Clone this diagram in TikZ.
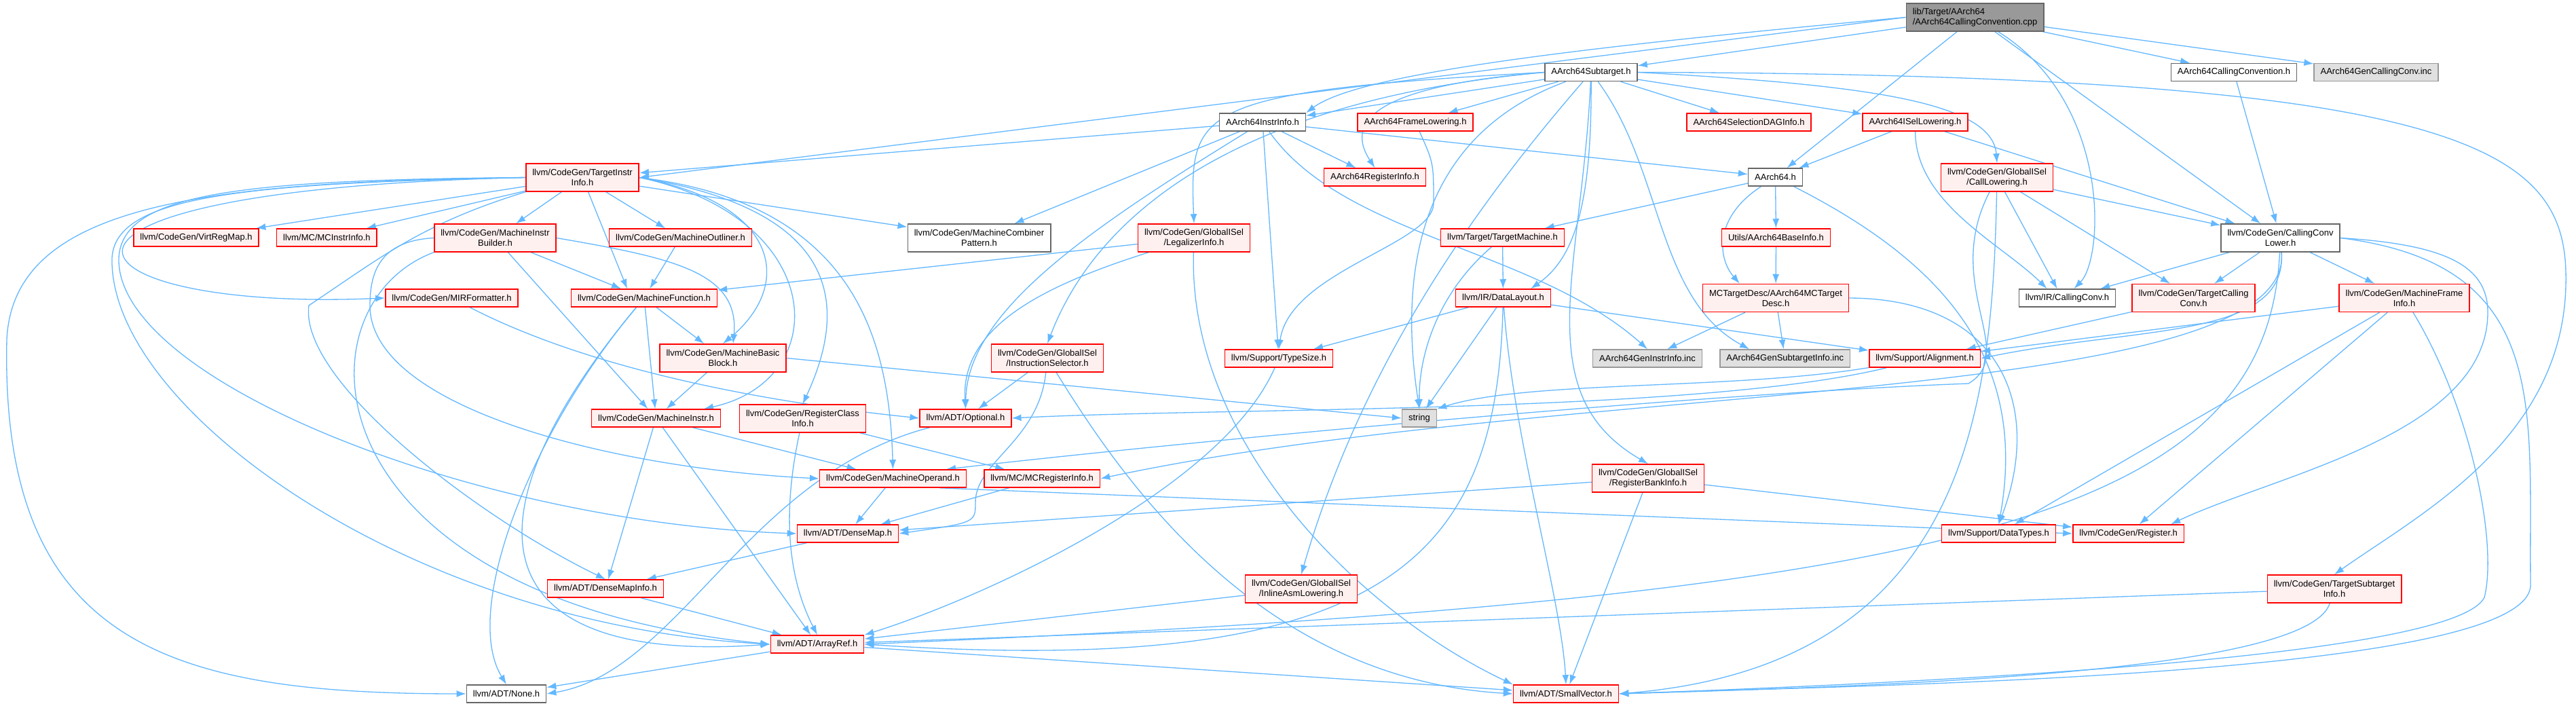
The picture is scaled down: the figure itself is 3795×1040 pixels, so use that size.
\documentclass[tikz,border=0pt]{standalone}
\usepackage{fontspec}
\setmainfont{Liberation Sans}
\usepackage{xcolor}
\usetikzlibrary{arrows.meta, positioning, backgrounds}

\definecolor{edgeblue}{HTML}{63B8FF}
\definecolor{truncred}{HTML}{FF0000}
\definecolor{truncfill}{HTML}{FFF0F0}
\definecolor{plainline}{HTML}{666666}
\definecolor{incline}{HTML}{999999}
\definecolor{incfill}{HTML}{E0E0E0}
\definecolor{rootfill}{HTML}{999999}

\begin{document}
\begin{tikzpicture}[
    x=1pt, y=-1pt,
    hbox/.style={rectangle, line width=1.5pt, align=center, inner xsep=9.5pt, inner ysep=2pt, minimum height=26pt, font=\fontsize{13}{15}\selectfont},
    rnode/.style={hbox, draw=truncred, fill=truncfill},
    wnode/.style={hbox, draw=plainline, fill=white},
    gnode/.style={hbox, draw=incline, fill=incfill},
    rootnode/.style={hbox, draw=plainline, fill=rootfill, align=left},
    tall/.style={minimum height=41pt},
    dep/.style={-{Latex[length=14pt,width=10pt]}, line width=1.3pt, color=edgeblue}
]
\useasboundingbox (0,0) rectangle (3795,1040);

% Nodes
\node[rootnode, tall] (root) at (2909.5,25.5) {lib/Target/AArch64\\/AArch64CallingConvention.cpp};
\node[wnode] (subt) at (2344,106.5) {AArch64Subtarget.h};
\node[wnode] (ccconv) at (3291,106.5) {AArch64CallingConvention.h};
\node[gnode, right=24pt of ccconv] (gencc) {AArch64GenCallingConv.inc};

\node[wnode] (instr) at (1860,180) {AArch64InstrInfo.h};
\node[rnode] (frame) at (2085,180) {AArch64FrameLowering.h};
\node[rnode] (seldag) at (2576.5,180) {AArch64SelectionDAGInfo.h};
\node[rnode] (isel) at (2821.5,180) {AArch64ISelLowering.h};

\node[rnode, tall] (tii) at (858,261.5) {llvm/CodeGen/TargetInstr\\Info.h};
\node[rnode] (reginfo) at (2025.5,261) {AArch64RegisterInfo.h};
\node[wnode] (aarch) at (2615.5,261) {AArch64.h};
\node[rnode, tall] (calllow) at (2942,261.5) {llvm/CodeGen/GlobalISel\\/CallLowering.h};

\node[rnode] (vrm) at (289,350) {llvm/CodeGen/VirtRegMap.h};
\node[rnode, right=25pt of vrm] (mcii) {llvm/MC/MCInstrInfo.h};
\node[rnode, tall] (mib) at (729.5,350.5) {llvm/CodeGen/MachineInstr\\Builder.h};
\node[rnode] (outliner) at (1002.5,350) {llvm/CodeGen/MachineOutliner.h};
\node[wnode, tall] (combiner) at (1442.5,350.5) {llvm/CodeGen/MachineCombiner\\Pattern.h};
\node[rnode, tall] (legal) at (1759,350.5) {llvm/CodeGen/GlobalISel\\/LegalizerInfo.h};
\node[rnode] (tm) at (2213.5,350) {llvm/Target/TargetMachine.h};
\node[rnode] (baseinfo) at (2616.5,350) {Utils/AArch64BaseInfo.h};
\node[wnode, tall] (cclower) at (3359.5,350.5) {llvm/CodeGen/CallingConv\\Lower.h};

\node[rnode] (mirf) at (665.5,439) {llvm/CodeGen/MIRFormatter.h};
\node[rnode] (mf) at (949,439) {llvm/CodeGen/MachineFunction.h};
\node[rnode] (dl) at (2214.5,439) {llvm/IR/DataLayout.h};
\node[rnode, tall] (mctd) at (2616,439) {MCTargetDesc/AArch64MCTarget\\Desc.h};
\node[wnode] (ircc) at (3045.5,439) {llvm/IR/CallingConv.h};
\node[rnode, tall, right=23pt of ircc] (tcc) {llvm/CodeGen/TargetCalling\\Conv.h};
\node[rnode, tall] (mfi) at (3542,439) {llvm/CodeGen/MachineFrame\\Info.h};

\node[rnode, tall] (mbb) at (1065,527.5) {llvm/CodeGen/MachineBasic\\Block.h};
\node[rnode, tall] (instsel) at (1543,527.5) {llvm/CodeGen/GlobalISel\\/InstructionSelector.h};
\node[rnode] (typesize) at (1884,528) {llvm/Support/TypeSize.h};
\node[gnode] (geninstr) at (2427,528) {AArch64GenInstrInfo.inc};
\node[gnode, right=25pt of geninstr] (gensub) {AArch64GenSubtargetInfo.inc};
\node[rnode] (align) at (2835.5,528) {llvm/Support/Alignment.h};

\node[rnode] (mi) at (966.5,616) {llvm/CodeGen/MachineInstr.h};
\node[rnode, tall] (rci) at (1182.5,616.5) {llvm/CodeGen/RegisterClass\\Info.h};
\node[rnode] (optional) at (1422.5,616) {llvm/ADT/Optional.h};
\node[gnode] (str) at (2091,616) {string};

\node[rnode] (mo) at (1315.5,705) {llvm/CodeGen/MachineOperand.h};
\node[rnode, right=25pt of mo] (mcri) {llvm/MC/MCRegisterInfo.h};
\node[rnode, tall] (rbi) at (2428,704.5) {llvm/CodeGen/GlobalISel\\/RegisterBankInfo.h};

\node[rnode] (dm) at (1249,786) {llvm/ADT/DenseMap.h};
\node[rnode] (dt) at (2944.5,786) {llvm/Support/DataTypes.h};
\node[rnode, right=24pt of dt] (reg) {llvm/CodeGen/Register.h};

\node[rnode] (dmi) at (892,867) {llvm/ADT/DenseMapInfo.h};
\node[rnode, tall] (inlasm) at (1917,867.5) {llvm/CodeGen/GlobalISel\\/InlineAsmLowering.h};
\node[rnode, tall] (tsi) at (3439,867.5) {llvm/CodeGen/TargetSubtarget\\Info.h};

\node[rnode] (ar) at (1204,949) {llvm/ADT/ArrayRef.h};
\node[wnode] (none) at (746,1022) {llvm/ADT/None.h};
\node[rnode] (sv) at (2307,1022) {llvm/ADT/SmallVector.h};

\begin{scope}[on background layer]
\fill[white] (0,0) rectangle (3795,1040);

% Includes of the .cpp file
\draw[dep] (root) -- (subt);
\draw[dep] (root.west) .. controls (2300,72) and (2000,110) .. (instr.north east);
\draw[dep] (root.west) -- (tii.east);
\draw[dep] (root) -- (aarch);
\draw[dep] (root) -- (ccconv);
\draw[dep] (root) -- (gencc);
\draw[dep] (root) -- (cclower);
\draw[dep] (root) .. controls (3110,150) and (3100,380) .. ([xshift=10pt]ircc.north);

% AArch64Subtarget.h
\draw[dep] (subt) -- (instr);
\draw[dep] (subt) -- (frame);
\draw[dep] (subt.west) .. controls (2050,125) and (1975,170) .. (reginfo.north);
\draw[dep] (subt) -- (seldag);
\draw[dep] (subt) -- (isel);
\draw[dep] (subt.east) .. controls (2750,125) and (2935,150) .. (calllow.north);
\draw[dep] (subt.east) .. controls (3650,110) and (3785,220) .. (3780,420) .. controls (3775,650) and (3560,760) .. (tsi.north);
\draw[dep] (subt) .. controls (2150,330) and (2000,560) .. (inlasm.north);
\draw[dep] (subt.west) .. controls (1800,150) and (1610,330) .. (instsel.north);
\draw[dep] (subt.west) .. controls (1760,135) and (1752,160) .. (legal.north);
\draw[dep] (subt) .. controls (2330,400) and (2250,580) .. (rbi.north);
\draw[dep] (subt) .. controls (2345,300) and (2320,380) .. ([xshift=-30pt]dl.north east);
\draw[dep] (subt) .. controls (2090,200) and (2060,400) .. (str.north);
\draw[dep] (subt) .. controls (2450,250) and (2440,440) .. ([xshift=44pt]gensub.north west);

% AArch64InstrInfo.h
\draw[dep] (instr) -- (tii);
\draw[dep] (instr) -- (aarch);
\draw[dep] (instr) -- (reginfo);
\draw[dep] (instr) -- (combiner);
\draw[dep] (instr) .. controls (1600,340) and (1425,460) .. (optional.north);
\draw[dep] (instr) -- (typesize);
\draw[dep] (instr) .. controls (1980,350) and (2260,365) .. (geninstr.north);

% other AArch64 headers
\draw[dep] (frame) .. controls (2112,240) .. (2112,300) .. controls (2110,360) and (1900,400) .. (typesize.north);
\draw[dep] (isel) -- (aarch);
\draw[dep] (isel) -- (cclower);
\draw[dep] (isel) .. controls (2822,300) and (2950,360) .. ([xshift=-30pt]ircc.north);
\draw[dep] (aarch) -- (tm);
\draw[dep] (aarch) -- (baseinfo);
\draw[dep] (aarch) .. controls (2525,320) and (2530,380) .. ([xshift=55pt]mctd.north west);
\draw[dep] (aarch) .. controls (2850,380) and (2990,520) .. (dt.north);
\draw[dep] (tm) -- (dl);
\draw[dep] (tm) .. controls (2120,430) and (2090,520) .. (str.north);
\draw[dep] (baseinfo) -- (mctd);
\draw[dep] (mctd) -- (geninstr);
\draw[dep] (mctd) -- (gensub);
\draw[dep] (mctd.east) .. controls (2950,440) and (3010,600) .. (dt.north);
\draw[dep] (ccconv) -- (cclower);

% DataLayout.h
\draw[dep] (dl) -- (typesize);
\draw[dep] (dl) -- (str);
\draw[dep] (dl) -- (align);
\draw[dep] (dl) .. controls (2230,650) and (2300,880) .. (sv.north);
\draw[dep] (dl) .. controls (2205,820) and (2050,1000) .. (ar.east);

% CallLowering.h
\draw[dep] (calllow) -- (cclower);
\draw[dep] (calllow) -- ([xshift=-15pt]ircc.north);
\draw[dep] (calllow) -- (tcc);
\draw[dep] (calllow) .. controls (2860,420) and (2975,520) .. (2900,565) .. controls (2500,580) and (1750,650) .. ([xshift=-30pt]mo.north east);
\draw[dep] (calllow) .. controls (2935,600) and (2900,980) .. (sv.east);

% CallingConvLower.h
\draw[dep] (cclower) -- (ircc);
\draw[dep] (cclower) -- (tcc);
\draw[dep] (cclower) -- (mfi);
\draw[dep] (cclower) .. controls (3370,500) and (3150,480) .. (align.east);
\draw[dep] (cclower) .. controls (3380,600) and (2300,560) .. (mcri.east);
\draw[dep] (cclower.east) .. controls (3600,360) and (3665,390) .. (3665,460) .. controls (3665,640) and (3350,700) .. ([xshift=-20pt]reg.north east);
\draw[dep] (cclower.east) .. controls (3760,390) and (3725,600) .. (3728,860) .. controls (3735,1000) and (2700,1010) .. (sv.east);
\draw[dep] (cclower) .. controls (3340,760) and (2900,880) .. (ar.east);
\draw[dep] (mfi) -- (align);
\draw[dep] (mfi) -- (reg);
\draw[dep] (mfi) -- (dt);
\draw[dep] (mfi) .. controls (3640,600) and (3680,800) .. (3660,880) .. controls (3620,960) and (3000,1000) .. (sv.east);
\draw[dep] (tcc) -- (align);
\draw[dep] (align) .. controls (2550,575) and (2250,560) .. (str.north east);
\draw[dep] (align) .. controls (2500,610) and (1800,600) .. (optional.east);

% GlobalISel headers
\draw[dep] (legal) -- (mf);
\draw[dep] (legal) .. controls (1540,420) and (1415,480) .. (optional.north);
\draw[dep] (legal) .. controls (1750,650) and (2000,900) .. (sv.north west);
\draw[dep] (instsel) -- (optional);
\draw[dep] (instsel) .. controls (1530,650) and (1437,680) .. (1437,740) .. controls (1437,770) .. (dm.east);
\draw[dep] (instsel) .. controls (1650,700) and (1850,1000) .. (sv.west);
\draw[dep] (typesize) .. controls (1800,720) and (1450,880) .. (ar.north east);
\draw[dep] (inlasm) -- (ar);
\draw[dep] (rbi) -- (dm);
\draw[dep] (rbi) -- (sv);
\draw[dep] (rbi) -- (reg);
\draw[dep] (tsi) -- (ar);
\draw[dep] (tsi) .. controls (3400,990) and (2800,1010) .. (sv.east);

% TargetInstrInfo.h
\draw[dep] (tii) -- (vrm);
\draw[dep] (tii) -- (mcii);
\draw[dep] (tii) -- (mib);
\draw[dep] (tii) -- (outliner);
\draw[dep] (tii) -- (combiner);
\draw[dep] (tii.west) .. controls (-40,280) and (80,460) .. (mirf.west);
\draw[dep] (tii.west) .. controls (300,268) and (20,300) .. (10,500) .. controls (0,950) and (250,1022) .. (none.west);
\draw[dep] (tii.west) .. controls (350,270) and (170,290) .. (165,380) .. controls (160,600) and (600,920) .. (ar.west);
\draw[dep] (tii.west) .. controls (350,265) and (180,285) .. (175,380) .. controls (170,560) and (700,770) .. (dm.west);
\draw[dep] (tii.south west) .. controls (620,330) and (560,380) .. (455,450) .. controls (440,560) and (700,760) .. (dmi.north);
\draw[dep] (tii) -- ([xshift=-25pt]mf.north);
\draw[dep] (tii.east) .. controls (1150,300) and (1170,420) .. (mbb.north);
\draw[dep] (tii.east) .. controls (1220,320) and (1230,560) .. ([xshift=-25pt]mi.north east);
\draw[dep] (tii.east) .. controls (1240,310) and (1250,450) .. (rci.north);
\draw[dep] (tii.east) .. controls (1260,300) and (1310,500) .. (mo.north);

% MachineInstrBuilder.h
\draw[dep] (mib) -- (mf);
\draw[dep] (mib) -- (mi);
\draw[dep] (mib.east) .. controls (990,380) and (1090,400) .. ([xshift=15pt]mbb.north);
\draw[dep] (mib.south west) .. controls (430,450) and (450,880) .. (ar.west);
\draw[dep] (mib.west) .. controls (560,355) and (545,400) .. (545,450) .. controls (545,600) and (900,690) .. (mo.west);

% MachineFunction.h and friends
\draw[dep] (mf) -- (mbb);
\draw[dep] (mf) -- (mi);
\draw[dep] (mf) .. controls (780,640) and (680,900) .. (none.north);
\draw[dep] (mf) .. controls (680,760) and (700,980) .. (ar.west);
\draw[dep] (outliner) -- (mf);
\draw[dep] (mbb) -- (mi);
\draw[dep] (mbb.east) -- (str.west);
\draw[dep] (mi) -- (mo);
\draw[dep] (mi) -- (dmi);
\draw[dep] (mi) -- (ar);
\draw[dep] (mirf) .. controls (900,560) and (1200,600) .. (optional.west);
\draw[dep] (rci) .. controls (1160,720) and (1150,830) .. (ar.north);
\draw[dep] (rci) -- (mcri);

% ADT
\draw[dep] (optional) .. controls (1100,700) and (1000,990) .. (none.east);
\draw[dep] (mo) -- (dm);
\draw[dep] ([xshift=-40pt]mo.south east) -- (reg.west);
\draw[dep] (mcri) -- (dm);
\draw[dep] (dm) -- (dmi);
\draw[dep] (dmi) -- (ar);
\draw[dep] (ar) -- (none);
\draw[dep] (ar) -- (sv);
\end{scope}

\end{tikzpicture}
\end{document}
